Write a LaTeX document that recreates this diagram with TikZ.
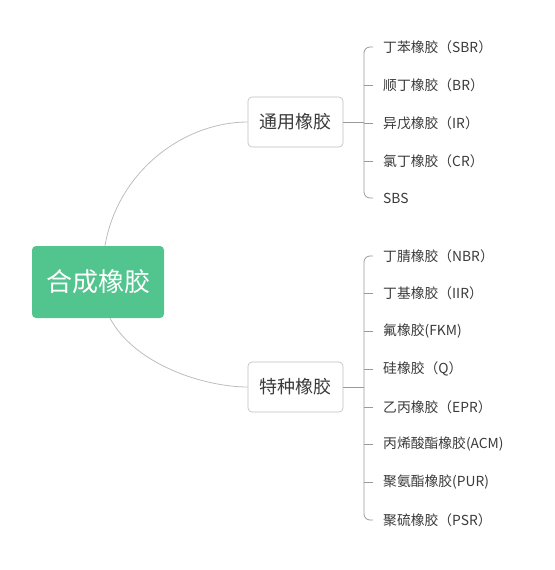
\documentclass[tikz,border=0pt]{standalone}
\usepackage{fontspec}
\setmainfont{Noto Sans CJK SC}
\usepackage{tikz}
\usetikzlibrary{positioning}

\definecolor{rootgreen}{HTML}{52C48E}
\definecolor{txtgray}{HTML}{3A3A3A}
\definecolor{linegray}{HTML}{BDBDBD}
\definecolor{bracegray}{HTML}{9A9A9A}

\begin{document}
\begin{tikzpicture}[
    x=1pt, y=-1pt,
    root/.style={
        rectangle,
        rounded corners=4pt,
        fill=rootgreen,
        text=white,
        font=\fontsize{26}{30}\selectfont,
        minimum width=132pt,
        minimum height=72pt
    },
    branch/.style={
        rectangle,
        rounded corners=4pt,
        draw=linegray,
        line width=0.6pt,
        text=txtgray,
        font=\fontsize{18}{22}\selectfont,
        minimum width=95pt,
        minimum height=50pt
    },
    item/.style={
        anchor=west,
        inner xsep=10pt,
        inner ysep=2pt,
        text=txtgray,
        font=\fontsize{13.8}{16}\selectfont
    },
    curve/.style={draw=linegray, line width=0.8pt},
    brace/.style={draw=bracegray, line width=0.8pt, rounded corners=6pt}
]
\useasboundingbox (0,0) rectangle (554,570);

\node[root] (syn) at (98,282) {合成橡胶};
\node[branch] (gen) at (295.5,122) {通用橡胶};
\node[branch] (spe) at (295.5,387) {特种橡胶};

% general rubbers
\node[item] (g1) at (373,47) {丁苯橡胶（SBR）};
\node[item] (g2) at (373,85) {顺丁橡胶（BR）};
\node[item] (g3) at (373,123) {异戊橡胶（IR）};
\node[item] (g4) at (373,161) {氯丁橡胶（CR）};
\node[item] (g5) at (373,198) {SBS};

% special rubbers
\node[item] (s1) at (373,256) {丁腈橡胶（NBR）};
\node[item] (s2) at (373,293) {丁基橡胶（IIR）};
\node[item] (s3) at (373,331) {氟橡胶(FKM)};
\node[item] (s4) at (373,369) {硅橡胶（Q）};
\node[item] (s5) at (373,407) {乙丙橡胶（EPR）};
\node[item] (s6) at (373,444) {丙烯酸酯橡胶(ACM)};
\node[item] (s7) at (373,482) {聚氨酯橡胶(PUR)};
\node[item] (s8) at (373,520) {聚硫橡胶（PSR）};

\coordinate (gj) at (364,122);
\coordinate (sj) at (364,387);

% root to branches
\draw[curve] ([xshift=7pt]syn.north) .. controls (118,170) and (185,122) .. (gen.west);
\draw[curve] ([xshift=12pt]syn.south) .. controls (135,365) and (205,387) .. (spe.west);

% brackets
\draw[brace] (gen.east) -- (gj);
\draw[brace] (g1.west) -| (gj) |- (g5.west);
\foreach \n in {g2,g3,g4}
    \draw[brace] (\n.west) -- (\n.west -| gj);

\draw[brace] (spe.east) -- (sj);
\draw[brace] (s1.west) -| (sj) |- (s8.west);
\foreach \n in {s2,s3,s4,s5,s6,s7}
    \draw[brace] (\n.west) -- (\n.west -| sj);

\end{tikzpicture}
\end{document}
